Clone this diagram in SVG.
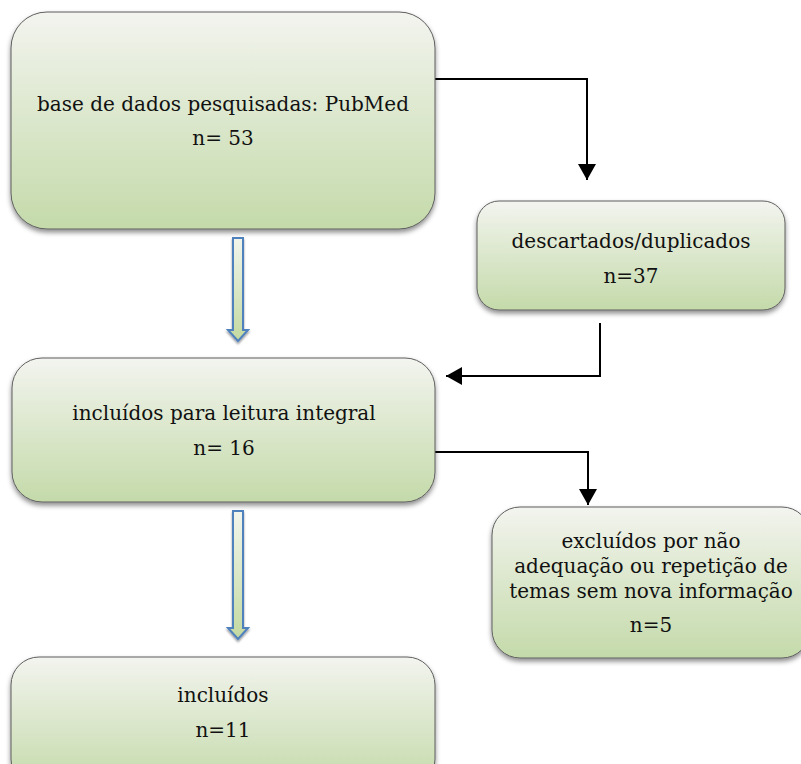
<svg xmlns="http://www.w3.org/2000/svg" width="801" height="764" viewBox="0 0 801 764">
<style>
.box{fill:url(#boxg);stroke:#5f5f5f;stroke-width:1;filter:url(#sh)}
.t{font-family:"DejaVu Serif","Liberation Serif",serif;font-size:20px;fill:#111;text-anchor:middle}
.con{fill:none;stroke:#000;stroke-width:2;marker-end:url(#ah)}
.blk{fill:url(#blkg);stroke:#4f81bd;stroke-width:2;filter:url(#sh2)}
</style>
<defs>
<linearGradient id="boxg" x1="0" y1="0" x2="0" y2="1">
<stop offset="0" stop-color="#f3f4ef"/>
<stop offset="0.35" stop-color="#e2ebd6"/>
<stop offset="1" stop-color="#c4daaa"/>
</linearGradient>
<linearGradient id="blkg" x1="0" y1="0" x2="0" y2="1">
<stop offset="0" stop-color="#f2f5ec"/>
<stop offset="1" stop-color="#c3d9a0"/>
</linearGradient>
<filter id="sh" x="-10%" y="-10%" width="120%" height="130%">
<feDropShadow dx="0" dy="3" stdDeviation="2.5" flood-color="#000" flood-opacity="0.45"/>
</filter>
<filter id="sh2" x="-50%" y="-10%" width="200%" height="130%">
<feDropShadow dx="0" dy="2" stdDeviation="1" flood-color="#000" flood-opacity="0.4"/>
</filter>
<marker id="ah" markerUnits="userSpaceOnUse" markerWidth="16" markerHeight="18" refX="16" refY="9" orient="auto">
<path d="M0,0 L16,9 L0,18 z" fill="#000"/>
</marker>
</defs>
<g id="connectors">
<path class="con" d="M435,79 H587 V180"/>
<path class="con" d="M600,323 V376 H446"/>
<path class="con" d="M435,452 H588 V505"/>
<polygon class="blk" points="233,238 243,238 243,330 248,330 238,341 228,330 233,330"/>
<polygon class="blk" points="233,511 243,511 243,628 248,628 238,639 228,628 233,628"/>
</g>
<g id="n1">
<rect class="box" x="11" y="12" width="424" height="217" rx="36"/>
<text class="t" x="223" y="111">base de dados pesquisadas: PubMed</text>
<text class="t" x="223" y="145">n= 53</text>
</g>
<g id="n2">
<rect class="box" x="477" y="201" width="308" height="109" rx="22"/>
<text class="t" x="631" y="248">descartados/duplicados</text>
<text class="t" x="631" y="283">n=37</text>
</g>
<g id="n3">
<rect class="box" x="12" y="358" width="423" height="144" rx="30"/>
<text class="t" x="224" y="420">incluídos para leitura integral</text>
<text class="t" x="224" y="455">n= 16</text>
</g>
<g id="n4">
<rect class="box" x="492" y="507" width="318" height="151" rx="28"/>
<text class="t" x="651" y="548">excluídos por não</text>
<text class="t" x="651" y="573">adequação ou repetição de</text>
<text class="t" x="651" y="598">temas sem nova informação</text>
<text class="t" x="651" y="632">n=5</text>
</g>
<g id="n5">
<rect class="box" x="11" y="657" width="424" height="130" rx="28"/>
<text class="t" x="223" y="702">incluídos</text>
<text class="t" x="223" y="737">n=11</text>
</g>
</svg>
